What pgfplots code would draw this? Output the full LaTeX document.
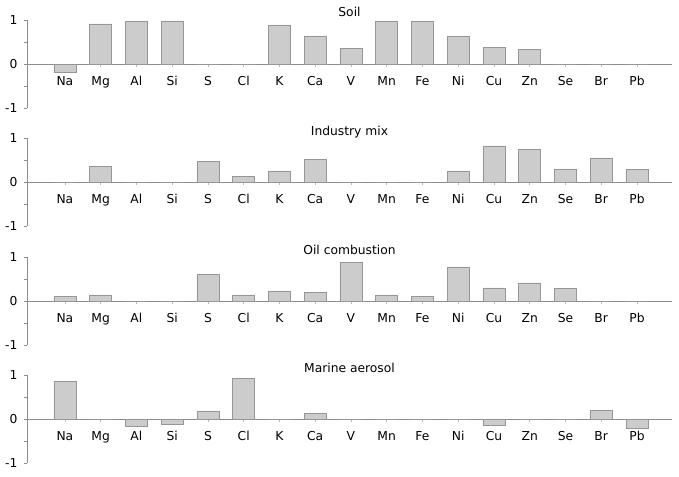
\documentclass[border=0pt]{standalone}
\usepackage{pgfplots}
\pgfplotsset{compat=1.18}
\usepackage{fontspec}
\setmainfont{DejaVu Sans}
\definecolor{barfill}{RGB}{204,204,204}
\definecolor{baredge}{RGB}{150,150,150}
\definecolor{axgray}{RGB}{140,140,140}
\tikzset{barsty/.style={fill=barfill, draw=baredge, line width=0.6pt}}
\pgfplotsset{
  panel/.style={
    scale only axis, width=645pt, height=88pt,
    xmin=-1.06, xmax=16.98, ymin=-1, ymax=1,
    axis x line*=middle, axis y line*=left,
    axis line style={axgray, line width=0.8pt},
    xtick={0,...,16},
    xticklabels={Na,Mg,Al,Si,S,Cl,K,Ca,V,Mn,Fe,Ni,Cu,Zn,Se,Br,Pb},
    ytick={-1,0,1}, yticklabels={{-1},0,1},
    minor ytick={-0.5,0.5},
    hide obscured y ticks=false, hide obscured x ticks=false,
    tick align=outside, major tick length=3pt, minor tick length=3pt,
    tick style={axgray, line width=0.6pt},
    xtick style={axgray!60},
    ticklabel style={font=\fontsize{12.3}{14}\selectfont, text=black},
    xticklabel style={yshift=-6pt},
    yticklabel style={xshift=-3pt},
    title style={font=\fontsize{12.3}{14}\selectfont, anchor=base, yshift=-3pt},
    ybar, bar width=22pt,
  }
}
\begin{document}
\begin{tikzpicture}
\useasboundingbox (0,0) rectangle (679pt,-476pt);
\begin{axis}[panel, at={(27pt,-20pt)}, anchor=north west, title={Soil}]
\addplot[barsty] coordinates {(0,-0.18) (1,0.91) (2,0.97) (3,0.98) (4,0) (5,0) (6,0.89) (7,0.64) (8,0.36) (9,0.96) (10,0.97) (11,0.62) (12,0.38) (13,0.34) (14,0) (15,0) (16,0)};
\end{axis}
\begin{axis}[panel, at={(27pt,-138pt)}, anchor=north west, title={Industry mix}]
\addplot[barsty] coordinates {(0,0) (1,0.35) (2,0) (3,0) (4,0.47) (5,0.125) (6,0.25) (7,0.52) (8,0) (9,0) (10,0) (11,0.25) (12,0.82) (13,0.75) (14,0.30) (15,0.55) (16,0.28)};
\end{axis}
\begin{axis}[panel, at={(27pt,-257pt)}, anchor=north west, title={Oil combustion}]
\addplot[barsty] coordinates {(0,0.10) (1,0.14) (2,0) (3,0) (4,0.60) (5,0.14) (6,0.22) (7,0.19) (8,0.88) (9,0.14) (10,0.10) (11,0.77) (12,0.30) (13,0.41) (14,0.29) (15,0) (16,0)};
\end{axis}
\begin{axis}[panel, at={(27pt,-375pt)}, anchor=north west, title={Marine aerosol}]
\addplot[barsty] coordinates {(0,0.86) (1,0) (2,-0.16) (3,-0.11) (4,0.17) (5,0.93) (6,0) (7,0.12) (8,0) (9,0) (10,0) (11,0) (12,-0.135) (13,0) (14,0) (15,0.19) (16,-0.21)};
\end{axis}
\end{tikzpicture}
\end{document}
